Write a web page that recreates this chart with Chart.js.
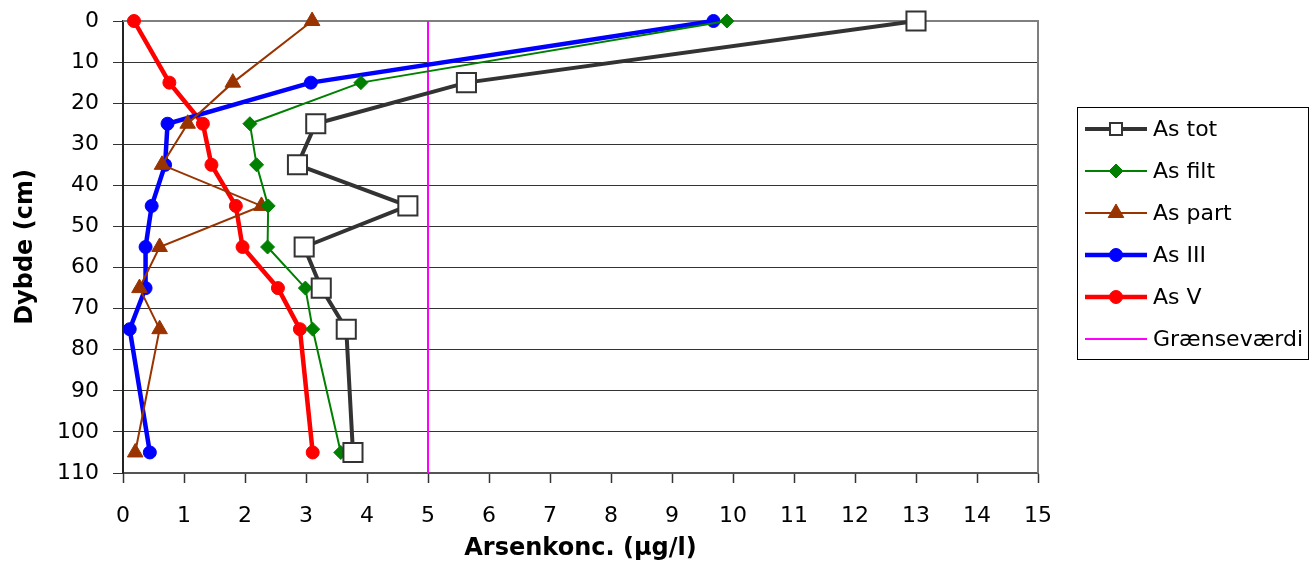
<!DOCTYPE html>
<html>
<head>
<meta charset="utf-8">
<script src="https://cdn.jsdelivr.net/npm/chart.js@4/dist/chart.umd.min.js"></script>
<style>
  body { margin: 0; background: #fff; }
</style>
</head>
<body>
<canvas id="myChart" width="1314" height="567"></canvas>
<script>
// depth of each sample (cm) and arsenic concentrations (µg/l)
let depth = [0, 15, 25, 35, 45, 55, 65, 75, 105];
let asTot = [13.0, 5.63, 3.16, 2.86, 4.67, 2.97, 3.25, 3.66, 3.77];
let asFilt = [9.9, 3.9, 2.08, 2.19, 2.38, 2.37, 2.99, 3.11, 3.57];
let asPart = [3.1, 1.8, 1.06, 0.64, 2.27, 0.6, 0.27, 0.6, 0.2];
let asIII = [9.68, 3.08, 0.73, 0.69, 0.47, 0.37, 0.37, 0.11, 0.44];
let asV = [0.18, 0.76, 1.31, 1.45, 1.85, 1.96, 2.54, 2.9, 3.11];
let limitValue = 5;
let limitDepths = [0, 110];

let xTicks = [0, 15];
let yTicks = [0, 110];

function points(xs, ys) {
    return xs.map((x, i) => ({ x: x, y: ys[i] }));
}

Chart.defaults.font.family = "'DejaVu Sans', sans-serif";
Chart.defaults.font.size = 22;
Chart.defaults.color = '#000';

// box around the plot (top + right edge)
let plotFrame = {
    id: 'plotFrame',
    beforeDatasetsDraw(chart) {
        let a = chart.chartArea;
        let c = chart.ctx;
        c.save();
        c.strokeStyle = '#7f7f7f';
        c.lineWidth = 2;
        c.beginPath();
        c.moveTo(a.left, a.top);
        c.lineTo(a.right, a.top);
        c.lineTo(a.right, a.bottom);
        c.stroke();
        c.restore();
    }
};

// legend in a framed box on the right, line + marker per series
let boxLegend = {
    id: 'boxLegend',
    afterDraw(chart, args, opts) {
        let c = chart.ctx;
        c.save();
        c.strokeStyle = '#000';
        c.lineWidth = 1;
        c.strokeRect(opts.left + 0.5, opts.top + 0.5, opts.width, opts.height);
        c.font = "22px 'DejaVu Sans', sans-serif";
        c.textBaseline = 'middle';
        c.textAlign = 'left';
        chart.data.datasets.forEach((ds, i) => {
            let y = opts.top + opts.firstRow + i * opts.rowGap;
            let x0 = opts.left + 8;
            let x1 = x0 + 62;
            c.strokeStyle = ds.borderColor;
            c.lineWidth = ds.borderWidth;
            c.beginPath();
            c.moveTo(x0, y);
            c.lineTo(x1, y);
            c.stroke();
            if (ds.pointRadius > 0) {
                c.fillStyle = ds.pointBackgroundColor;
                c.strokeStyle = ds.pointBorderColor;
                c.lineWidth = ds.pointBorderWidth;
                Chart.helpers.drawPoint(c, {
                    pointStyle: ds.pointStyle,
                    radius: ds.legendRadius,
                    rotation: 0,
                    borderWidth: ds.pointBorderWidth
                }, (x0 + x1) / 2, y);
            }
            c.fillStyle = '#000';
            c.fillText(ds.label, x1 + 6, y + 1);
        });
        c.restore();
    }
};

let ctx = document.getElementById('myChart').getContext('2d');

let myChart = new Chart(ctx, {
    type: 'line',
    data: {
        datasets: [{
            label: 'As tot',
            data: points(asTot, depth),
            borderColor: '#333333',
            borderWidth: 4,
            pointStyle: 'rect',
            pointRadius: 13.5,
            legendRadius: 8.5,
            pointBackgroundColor: '#fff',
            pointBorderColor: '#333333',
            pointBorderWidth: 2
        }, {
            label: 'As filt',
            data: points(asFilt, depth),
            borderColor: '#008000',
            borderWidth: 2,
            pointStyle: 'rectRot',
            pointRadius: 7,
            legendRadius: 7,
            pointBackgroundColor: '#008000',
            pointBorderColor: '#008000',
            pointBorderWidth: 1
        }, {
            label: 'As part',
            data: points(asPart, depth),
            borderColor: '#993300',
            borderWidth: 2,
            pointStyle: 'triangle',
            pointRadius: 9,
            legendRadius: 9,
            pointBackgroundColor: '#993300',
            pointBorderColor: '#993300',
            pointBorderWidth: 1
        }, {
            label: 'As III',
            data: points(asIII, depth),
            borderColor: '#0000ff',
            borderWidth: 4.5,
            pointStyle: 'circle',
            pointRadius: 6.5,
            legendRadius: 6.5,
            pointBackgroundColor: '#0000ff',
            pointBorderColor: '#0000ff',
            pointBorderWidth: 1
        }, {
            label: 'As V',
            data: points(asV, depth),
            borderColor: '#ff0000',
            borderWidth: 4.5,
            pointStyle: 'circle',
            pointRadius: 6.5,
            legendRadius: 6.5,
            pointBackgroundColor: '#ff0000',
            pointBorderColor: '#ff0000',
            pointBorderWidth: 1
        }, {
            label: 'Grænseværdi',
            data: points(limitDepths.map(() => limitValue), limitDepths),
            borderColor: '#ff00ff',
            borderWidth: 2,
            pointRadius: 0,
            legendRadius: 0
        }]
    },
    options: {
        responsive: false,
        animation: false,
        clip: false,
        layout: {
            padding: { left: 0, top: 21, right: 276, bottom: 0 }
        },
        plugins: {
            legend: { display: false },
            tooltip: { enabled: false },
            boxLegend: { left: 1077, top: 107, width: 231, height: 252, firstRow: 22, rowGap: 42 }
        },
        scales: {
            x: {
                type: 'linear',
                min: xTicks[0],
                max: xTicks[1],
                ticks: { stepSize: 1, padding: 20, maxRotation: 0 },
                grid: { drawOnChartArea: false, tickLength: 10, tickColor: '#333', tickWidth: 1.5 },
                border: { color: '#555', width: 2 },
                title: {
                    display: true,
                    text: 'Arsenkonc. (µg/l)',
                    font: { weight: 'bold', size: 24 },
                    padding: { top: 0, bottom: 4 }
                },
                afterFit(scale) {
                    scale.height = 94;
                    scale.paddingLeft = 0;
                    scale.paddingRight = 0;
                }
            },
            y: {
                type: 'linear',
                reverse: true,
                min: yTicks[0],
                max: yTicks[1],
                ticks: { stepSize: 10, padding: 14 },
                grid: { color: '#333', lineWidth: 1, tickLength: 10, tickColor: '#333' },
                border: { color: '#222', width: 2 },
                title: {
                    display: true,
                    text: 'Dybde (cm)',
                    font: { weight: 'bold', size: 24 },
                    padding: { top: 11, bottom: 0 }
                },
                afterFit(scale) {
                    scale.width = 123;
                    scale.paddingTop = 0;
                    scale.paddingBottom = 0;
                }
            }
        }
    },
    plugins: [plotFrame, boxLegend]
});
</script>
</body>
</html>
